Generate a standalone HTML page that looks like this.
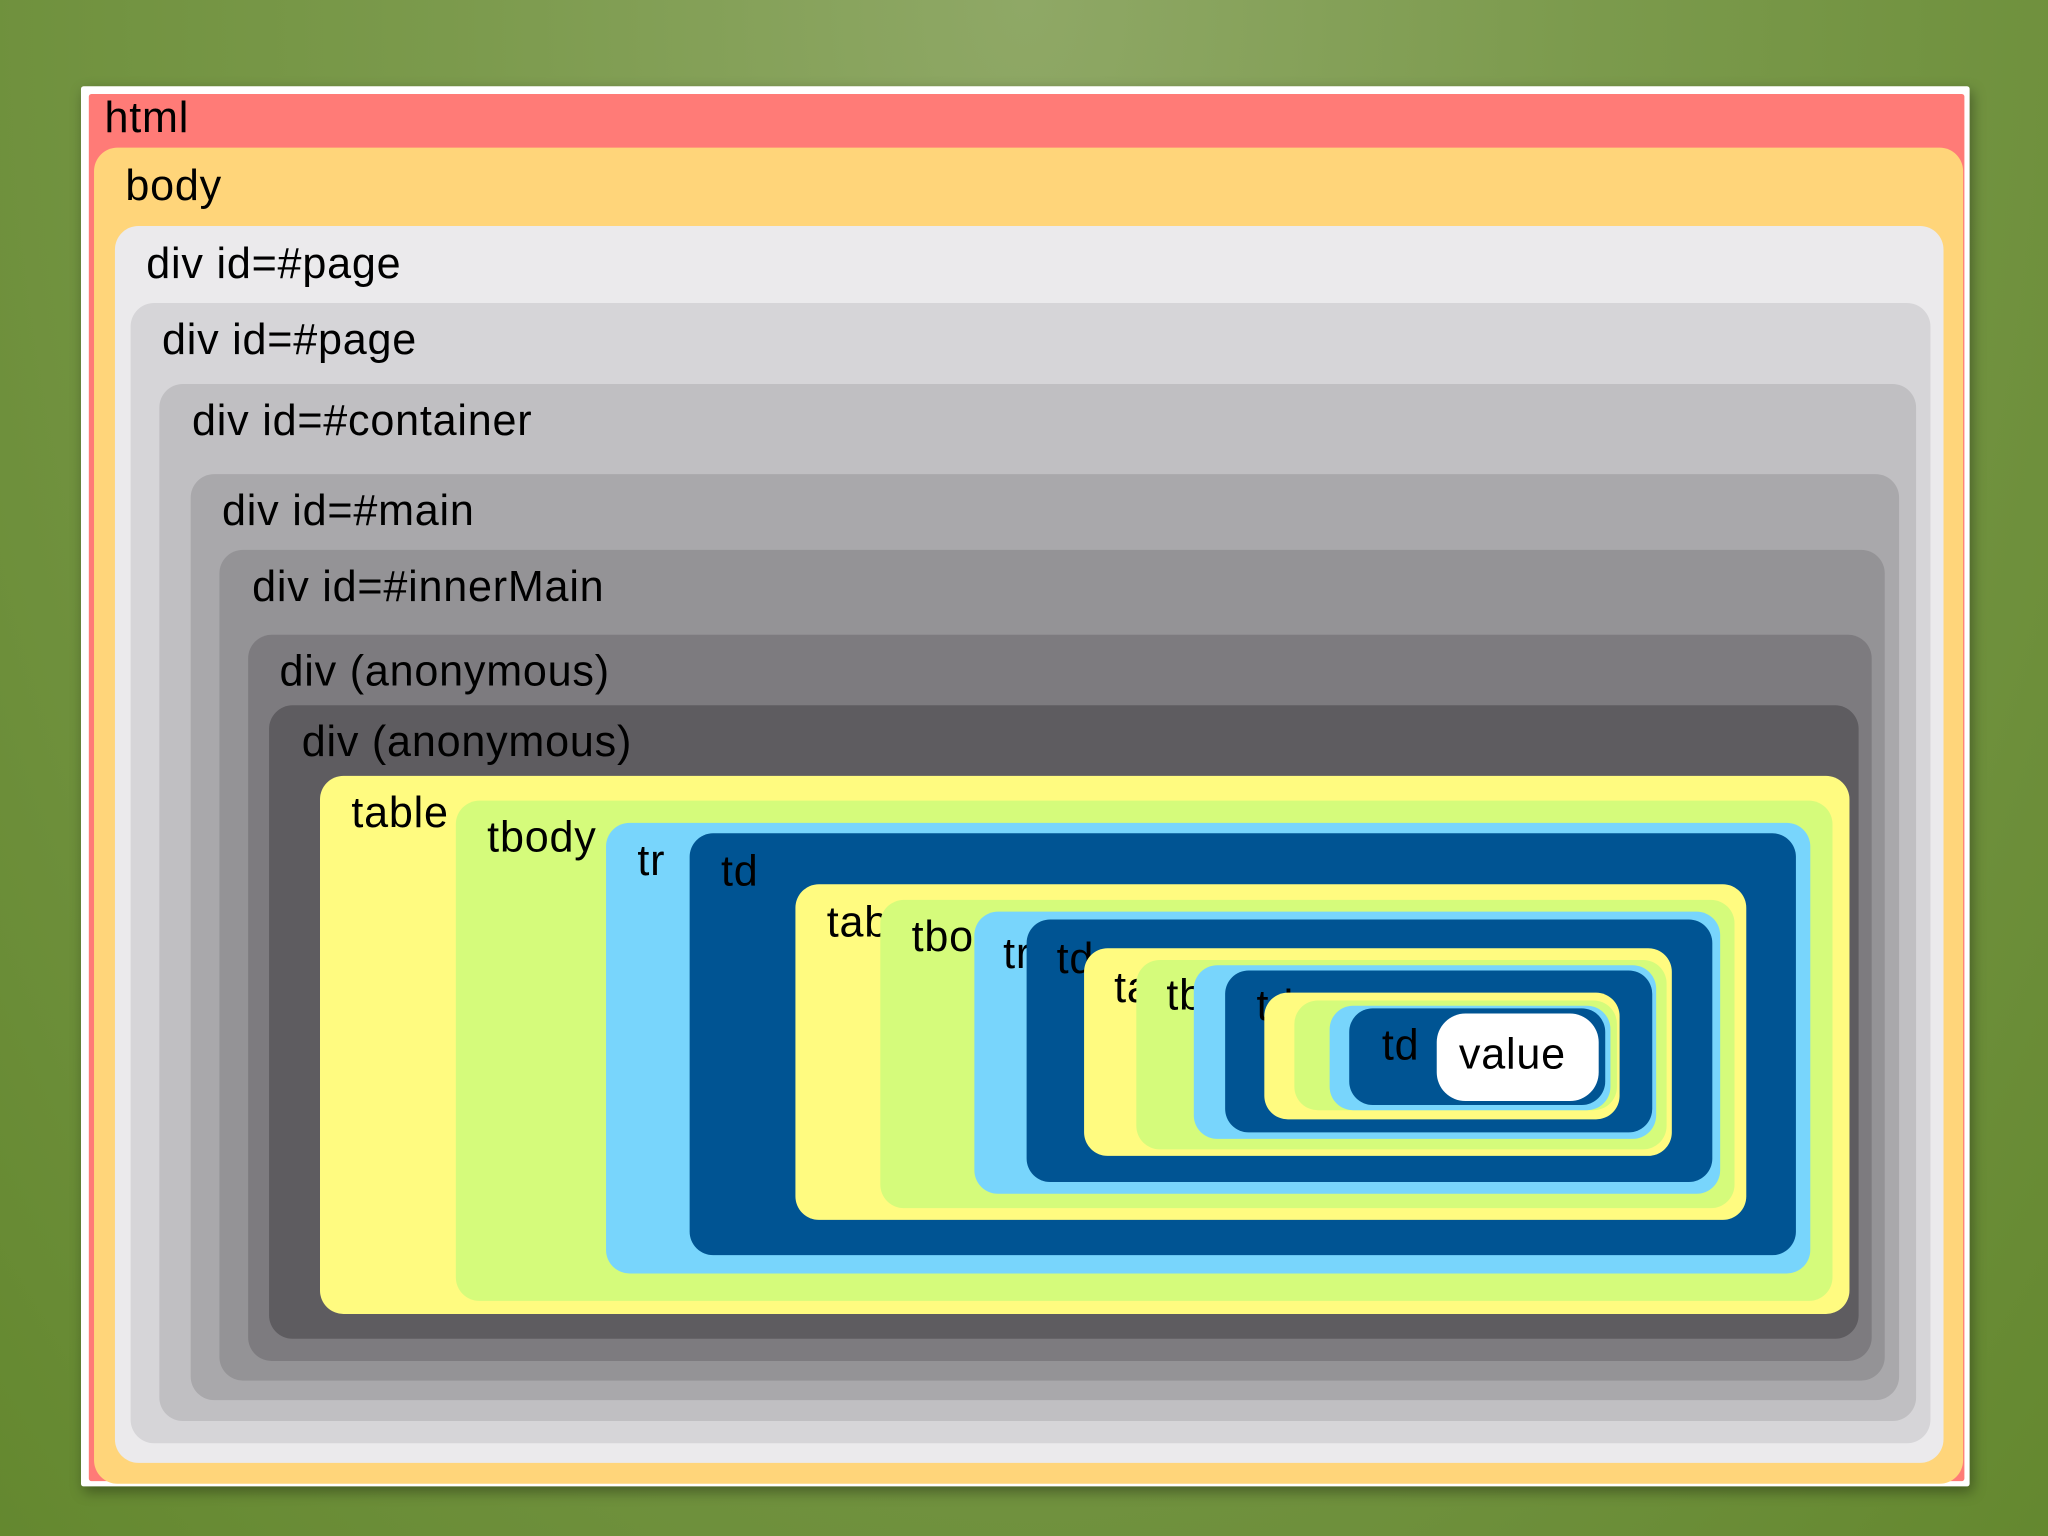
<!DOCTYPE html>
<html><head><meta charset="utf-8"><style>
html,body{margin:0;padding:0;}
body{width:2048px;height:1536px;overflow:hidden;background:#6e8f3f;}
#bg{position:absolute;left:0;top:0;width:2048px;height:1536px;background:radial-gradient(ellipse at 50% 0%,#8fa866 0%,#7b9a4c 40%,#64882f 100%);}
#stage{position:absolute;left:0;top:0;width:1568px;height:1176px;transform:scale(1.30612);transform-origin:0 0;}
.b{position:absolute;border-radius:18px;}
.l{position:absolute;font-family:"Liberation Sans",sans-serif;font-size:33px;letter-spacing:0.6px;line-height:36px;color:#000;white-space:nowrap;}
</style></head><body>
<div id="bg"></div>
<div id="stage">
<div class="b" style="left:62px;top:66px;width:1446px;height:1072px;background:#fff;border-radius:2px;box-shadow:2px 4px 10px rgba(0,0,0,.35)"></div>
<div class="b" style="left:68px;top:72px;width:1436px;height:1062px;background:#ff7b77;border-radius:2px"></div>
<div class="l" style="left:80px;top:72px">html</div>
<div class="b" style="left:72px;top:113px;width:1431px;height:1023px;background:#ffd57a"></div>
<div class="l" style="left:96px;top:124px">body</div>
<div class="b" style="left:88px;top:173px;width:1400px;height:947px;background:#ebeaec"></div>
<div class="l" style="left:112px;top:184px">div id=#page</div>
<div class="b" style="left:100px;top:232px;width:1378px;height:873px;background:#d6d5d8"></div>
<div class="l" style="left:124px;top:242px">div id=#page</div>
<div class="b" style="left:122px;top:294px;width:1345px;height:794px;background:#c0bfc2"></div>
<div class="l" style="left:147px;top:304px">div id=#container</div>
<div class="b" style="left:146px;top:363px;width:1308px;height:709px;background:#a9a8ab"></div>
<div class="l" style="left:170px;top:373px">div id=#main</div>
<div class="b" style="left:168px;top:421px;width:1275px;height:636px;background:#949396"></div>
<div class="l" style="left:193px;top:431px">div id=#innerMain</div>
<div class="b" style="left:190px;top:486px;width:1243px;height:556px;background:#7d7b7f"></div>
<div class="l" style="left:214px;top:496px">div (anonymous)</div>
<div class="b" style="left:206px;top:540px;width:1217px;height:485px;background:#5e5c60"></div>
<div class="l" style="left:231px;top:550px">div (anonymous)</div>
<div class="b" style="left:245px;top:594px;width:1171px;height:412px;background:#fffb80"></div>
<div class="l" style="left:269px;top:604px">table</div>
<div class="b" style="left:349px;top:613px;width:1054px;height:383px;background:#d5fb7b"></div>
<div class="l" style="left:373px;top:623px">tbody</div>
<div class="b" style="left:464px;top:630px;width:922px;height:345px;background:#78d5fc"></div>
<div class="l" style="left:488px;top:641px">tr</div>
<div class="b" style="left:528px;top:638px;width:847px;height:323px;background:#005493"></div>
<div class="l" style="left:552px;top:649px">td</div>
<div class="b" style="left:609px;top:677px;width:728px;height:257px;background:#fffb80"></div>
<div class="l" style="left:633px;top:688px">table</div>
<div class="b" style="left:674px;top:689px;width:654px;height:236px;background:#d5fb7b"></div>
<div class="l" style="left:698px;top:699px">tbody</div>
<div class="b" style="left:746px;top:698px;width:571px;height:216px;background:#78d5fc"></div>
<div class="l" style="left:768px;top:712px">tr</div>
<div class="b" style="left:786px;top:704px;width:525px;height:201px;background:#005493"></div>
<div class="l" style="left:809px;top:716px">td</div>
<div class="b" style="left:830px;top:726px;width:450px;height:159px;background:#fffb80"></div>
<div class="l" style="left:853px;top:738px">table</div>
<div class="b" style="left:870px;top:735px;width:406px;height:145px;background:#d5fb7b"></div>
<div class="l" style="left:893px;top:744px">tbody</div>
<div class="b" style="left:914px;top:739px;width:354px;height:133px;background:#78d5fc"></div>
<div class="l" style="left:938px;top:750px">tr</div>
<div class="b" style="left:938px;top:743px;width:327px;height:124px;background:#005493"></div>
<div class="l" style="left:962px;top:752px">td</div>
<div class="b" style="left:968px;top:760px;width:272px;height:97px;background:#fffb80"></div>
<div class="b" style="left:991px;top:766px;width:247px;height:84px;background:#d5fb7b"></div>
<div class="b" style="left:1018px;top:770px;width:215px;height:80px;background:#78d5fc"></div>
<div class="b" style="left:1033px;top:772px;width:196px;height:74px;background:#005493"></div>
<div class="l" style="left:1058px;top:782px">td</div>
<div class="b" style="left:1100px;top:776px;width:124px;height:67px;background:#fff;border-radius:22px"></div>
<div class="l" style="left:1117px;top:789px">value</div>
</div>
</body></html>
